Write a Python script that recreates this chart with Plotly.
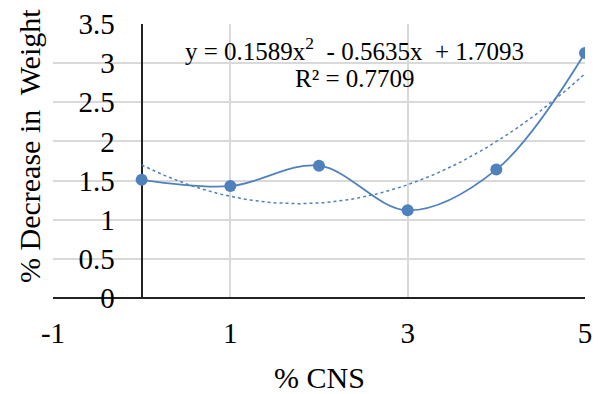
import numpy as np
import plotly.graph_objects as go

cns = [0, 1, 2, 3, 4, 5]
decrease = [1.51, 1.43, 1.69, 1.12, 1.64, 3.13]
x_ticks = [-1, 1, 3, 5]
y_ticks = [0, 0.5, 1, 1.5, 2, 2.5, 3, 3.5]
eq_text = "y = 0.1589x<sup>2</sup>  - 0.5635x  + 1.7093"
r2_text = "R² = 0.7709"
x_title = "% CNS"
y_title = "% Decrease in  Weight"

coef = np.polyfit(cns, decrease, 2)
xf = np.linspace(min(cns), max(cns), 101)
yf = np.polyval(coef, xf)

blue = "#4F81BD"
font = "Liberation Serif, Times New Roman, serif"

W, H = 602, 394
L, R, T, B = 53, 17, 24, 96
pw, ph = W - L - R, H - T - B


def px(x):
    return (x - L) / pw


def py(y):
    return (H - B - y) / ph


fig = go.Figure()
fig.add_trace(go.Scatter(x=xf, y=yf, mode="lines",
                         line=dict(color=blue, width=1.5, dash="dot"),
                         hoverinfo="skip", showlegend=False))
fig.add_trace(go.Scatter(x=cns, y=decrease, mode="lines+markers",
                         line=dict(color=blue, width=1.8, shape="spline", smoothing=1),
                         marker=dict(color=blue, size=12),
                         showlegend=False))

fig.add_annotation(x=px(354), xref="paper", y=py(49), yref="paper", text=eq_text,
                   showarrow=False, xanchor="center", yanchor="middle",
                   font=dict(family=font, size=25, color="black"))
fig.add_annotation(x=px(355), xref="paper", y=py(78), yref="paper", text=r2_text,
                   showarrow=False, xanchor="center", yanchor="middle",
                   font=dict(family=font, size=25, color="black"))
fig.add_annotation(x=px(319), xref="paper", y=py(377), yref="paper", text=x_title,
                   showarrow=False, xanchor="center", yanchor="middle",
                   font=dict(family=font, size=30, color="black"))
fig.add_annotation(x=px(29), xref="paper", y=py(146), yref="paper", text=y_title,
                   showarrow=False, xanchor="center", yanchor="middle", textangle=-90,
                   font=dict(family=font, size=30, color="black"))

fig.update_layout(
    width=W, height=H,
    margin=dict(l=L, r=R, t=T, b=B),
    plot_bgcolor="white", paper_bgcolor="white",
    font=dict(family=font, size=29, color="black"),
    xaxis=dict(range=[-1, 5], tickvals=x_ticks, ticktext=[str(v) for v in x_ticks],
               domain=[0, 1], automargin=False,
               showgrid=True, gridcolor="#d9d9d9", gridwidth=1.5,
               zeroline=True, zerolinecolor="#222222", zerolinewidth=2,
               showline=False, ticks="", ticklabelstandoff=15),
    yaxis=dict(range=[0, 3.5], tickvals=y_ticks, ticktext=[("%g" % v) for v in y_ticks],
               anchor="free", position=1 / 6, automargin=False,
               showgrid=True, gridcolor="#d9d9d9", gridwidth=1.5,
               zeroline=True, zerolinecolor="#222222", zerolinewidth=2,
               showline=False, ticks="", ticklabelstandoff=27),
)

fig.write_html("out.html", config={"displayModeBar": False},
               post_script="document.body.style.margin='0';document.body.style.padding='0';")
